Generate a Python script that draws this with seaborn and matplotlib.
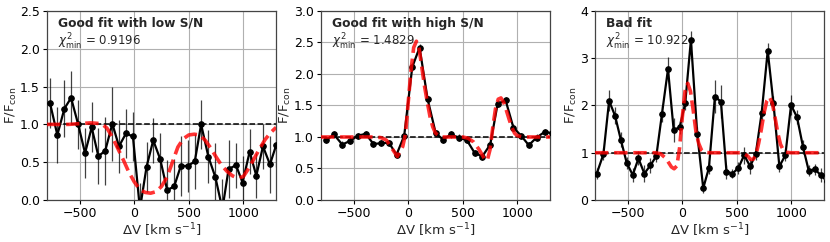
import numpy as np
import pandas as pd
import matplotlib
matplotlib.use("Agg")
import matplotlib.pyplot as plt
import seaborn as sns

# ---------------- data ----------------
titles = ["Good fit with low S/N", "Good fit with high S/N", "Bad fit"]
chi2_labels = ["0.9196", "1.4829", "10.922"]
ylims = [2.5, 3.0, 4.0]

# Panel 1 (low S/N)
v1 = [-772, -705, -640, -579, -514, -451, -390, -329, -266, -201, -140, -76, -12, 52,
      113, 174, 238, 302, 366, 427, 491, 555, 613, 680, 744, 808, 865, 933, 993, 1058,
      1119, 1180, 1244, 1302]
f1 = [1.28, 0.86, 1.21, 1.35, 1.00, 0.62, 0.96, 0.58, 0.65, 1.01, 0.71, 0.88, 0.84, -0.12,
      0.44, 0.79, 0.54, 0.13, 0.18, 0.45, 0.45, 0.51, 1.00, 0.57, 0.30, -0.12, 0.41, 0.46,
      0.23, 0.64, 0.32, 0.71, 0.47, 0.73]
e1 = [0.33, 0.37, 0.38, 0.35, 0.32, 0.33, 0.33, 0.37, 0.45, 0.49, 0.35, 0.33, 0.33, 0.35,
      0.33, 0.30, 0.35, 0.40, 0.36, 0.40, 0.35, 0.36, 0.32, 0.35, 0.45, 0.40, 0.38, 0.30,
      0.35, 0.30, 0.30, 0.30, 0.38, 0.30]
mv1 = [-800, -700, -600, -500, -400, -300, -250, -200, -150, -100, -50, 0, 50, 100, 150,
       200, 250, 300, 350, 400, 450, 500, 550, 600, 650, 700, 750, 800, 850, 900, 950,
       1000, 1050, 1100, 1150, 1200, 1250, 1300]
mf1 = [1.00, 1.00, 1.00, 1.01, 1.02, 1.01, 0.95, 0.83, 0.68, 0.53, 0.37, 0.24, 0.14, 0.10,
       0.09, 0.11, 0.18, 0.30, 0.50, 0.70, 0.81, 0.86, 0.87, 0.86, 0.79, 0.69, 0.57, 0.46,
       0.38, 0.32, 0.29, 0.31, 0.42, 0.55, 0.68, 0.80, 0.89, 0.96]

# Panel 2 (high S/N)
v2 = [-752, -681, -605, -531, -463, -390, -319, -246, -178, -107, -37, 37, 104, 178, 252,
      319, 393, 464, 537, 608, 678, 752, 820, 893, 964, 1035, 1105, 1176, 1250, 1320]
f2 = [0.95, 1.04, 0.88, 0.94, 1.02, 1.05, 0.89, 0.90, 0.91, 0.72, 1.02, 2.11, 2.42, 1.60,
      1.06, 0.96, 1.04, 0.99, 0.95, 0.75, 0.69, 0.88, 1.53, 1.58, 1.15, 1.02, 0.87, 0.99,
      1.08, 1.06]
e2 = [0.05, 0.05, 0.05, 0.05, 0.05, 0.05, 0.05, 0.05, 0.05, 0.05, 0.05, 0.06, 0.06, 0.05,
      0.05, 0.05, 0.05, 0.05, 0.05, 0.05, 0.05, 0.05, 0.06, 0.06, 0.05, 0.05, 0.05, 0.05,
      0.05, 0.05]
mv2 = [-800, -700, -600, -500, -400, -300, -250, -200, -150, -100, -50, -25, 0, 25, 50, 75,
       100, 125, 150, 175, 200, 225, 250, 300, 350, 400, 450, 500, 550, 600, 650, 700, 725,
       750, 775, 800, 825, 850, 875, 900, 925, 950, 975, 1000, 1050, 1100, 1200, 1300]
mf2 = [1.00, 1.00, 1.00, 1.00, 1.00, 1.00, 0.99, 0.95, 0.82, 0.69, 0.85, 1.05, 1.55, 2.05,
       2.42, 2.52, 2.40, 2.10, 1.80, 1.55, 1.32, 1.16, 1.06, 1.00, 1.00, 1.00, 1.00, 1.00,
       0.98, 0.92, 0.80, 0.65, 0.63, 0.80, 1.15, 1.45, 1.60, 1.62, 1.55, 1.42, 1.28, 1.15,
       1.06, 1.02, 1.00, 1.00, 1.00, 1.00]

# Panel 3 (bad fit)
v3 = [-784, -723, -671, -616, -564, -509, -454, -402, -348, -293, -238, -186, -131, -79,
      -24, 27, 79, 137, 192, 244, 299, 354, 405, 460, 515, 567, 622, 673, 728, 783, 835,
      890, 945, 997, 1052, 1107, 1159, 1214, 1269, 1324]
f3 = [0.56, 0.97, 2.10, 1.78, 1.28, 0.78, 0.53, 0.88, 0.56, 0.73, 0.93, 1.83, 2.77, 1.48,
      1.54, 2.05, 3.39, 1.40, 0.25, 0.68, 2.19, 2.08, 0.60, 0.56, 0.68, 0.95, 0.71, 0.97,
      1.85, 3.16, 2.06, 0.71, 0.95, 2.01, 1.75, 1.12, 0.62, 0.65, 0.53, 0.40]
e3 = [0.12, 0.12, 0.22, 0.18, 0.15, 0.12, 0.15, 0.15, 0.18, 0.15, 0.12, 0.18, 0.25, 0.25,
      0.15, 0.15, 0.18, 0.15, 0.10, 0.12, 0.35, 0.35, 0.15, 0.10, 0.12, 0.18, 0.15, 0.12,
      0.15, 0.17, 0.15, 0.12, 0.12, 0.22, 0.15, 0.15, 0.12, 0.12, 0.15, 0.12]
mv3 = [-800, -700, -600, -500, -400, -300, -250, -200, -150, -100, -75, -50, -25, 0, 25, 50,
       75, 100, 125, 150, 175, 200, 250, 300, 400, 500, 550, 600, 625, 650, 675, 700, 725,
       750, 775, 800, 825, 850, 875, 900, 925, 950, 1000, 1100, 1200, 1300]
mf3 = [1.00, 1.00, 1.00, 1.00, 1.00, 1.00, 1.00, 0.98, 0.88, 0.70, 0.66, 0.72, 1.10, 1.75,
       2.30, 2.47, 2.30, 1.90, 1.45, 1.20, 1.06, 1.01, 1.00, 1.00, 1.00, 1.00, 1.00, 0.93,
       0.86, 0.86, 0.95, 1.20, 1.50, 1.85, 2.10, 2.18, 2.05, 1.75, 1.42, 1.18, 1.06, 1.01,
       1.00, 1.00, 1.00, 1.00]

obs = [(v1, f1, e1), (v2, f2, e2), (v3, f3, e3)]
mods = [(mv1, mf1), (mv2, mf2), (mv3, mf3)]
yticks = [[0, 0.5, 1.0, 1.5, 2.0, 2.5], [0, 0.5, 1.0, 1.5, 2.0, 2.5, 3.0], [0, 1, 2, 3, 4]]
yfmt = ["{:.1f}", "{:.1f}", "{:.0f}"]

# ---------------- plot ----------------
sns.set_style("ticks")
plt.rcParams["font.family"] = ["DejaVu Sans"]
plt.rcParams["mathtext.fontset"] = "dejavusans"

fig = plt.figure(figsize=(8.3, 2.42), dpi=100)
lefts = [0.0566, 0.3867, 0.7169]
for i in range(3):
    ax = fig.add_axes([lefts[i], 0.1736, 0.276, 0.781])
    v, f, e = obs[i]
    mv, mf = mods[i]
    ax.grid(True, color="#b0b0b0", lw=0.8, zorder=0)
    ax.set_axisbelow(True)
    ax.axhline(1.0, color="k", ls="--", lw=1.1, zorder=2)
    ax.errorbar(v, f, yerr=e, fmt="none", ecolor="k", elinewidth=0.9, alpha=0.75, zorder=3)
    df = pd.DataFrame({"v": v, "f": f})
    sns.lineplot(data=df, x="v", y="f", ax=ax, color="k", lw=1.6, marker="o",
                 markersize=4.0, markeredgecolor="k", zorder=4)
    dm = pd.DataFrame({"v": mv, "f": mf})
    sns.lineplot(data=dm, x="v", y="f", ax=ax, color="red", lw=2.6, alpha=0.8,
                 zorder=5, dashes=False)
    ax.lines[-1].set_linestyle("--")
    ax.set_xlim(-800, 1300)
    ax.set_ylim(0, ylims[i])
    ax.set_xticks([-500, 0, 500, 1000])
    ax.set_xticklabels(["\u2212500", "0", "500", "1000"], fontsize=9)
    ax.set_yticks(yticks[i])
    ax.set_yticklabels([yfmt[i].format(t) for t in yticks[i]], fontsize=9)
    ax.tick_params(length=3, width=0.8, pad=2, colors="k")
    for sp in ax.spines.values():
        sp.set_color("#444444")
        sp.set_linewidth(0.9)
    ax.set_xlabel(r"$\Delta$V [km s$^{-1}$]", fontsize=9.5, labelpad=1)
    ax.set_ylabel(r"F/F$_{\rm con}$", fontsize=9.5, labelpad=1)
    ax.text(0.05, 0.935, titles[i], transform=ax.transAxes, fontsize=8.8,
            fontweight="bold", va="center", ha="left")
    ax.text(0.05, 0.835, r"$\chi^2_{\rm min}$ = " + chi2_labels[i], transform=ax.transAxes,
            fontsize=8.5, va="center", ha="left")

fig.savefig("out.png", dpi=100)
